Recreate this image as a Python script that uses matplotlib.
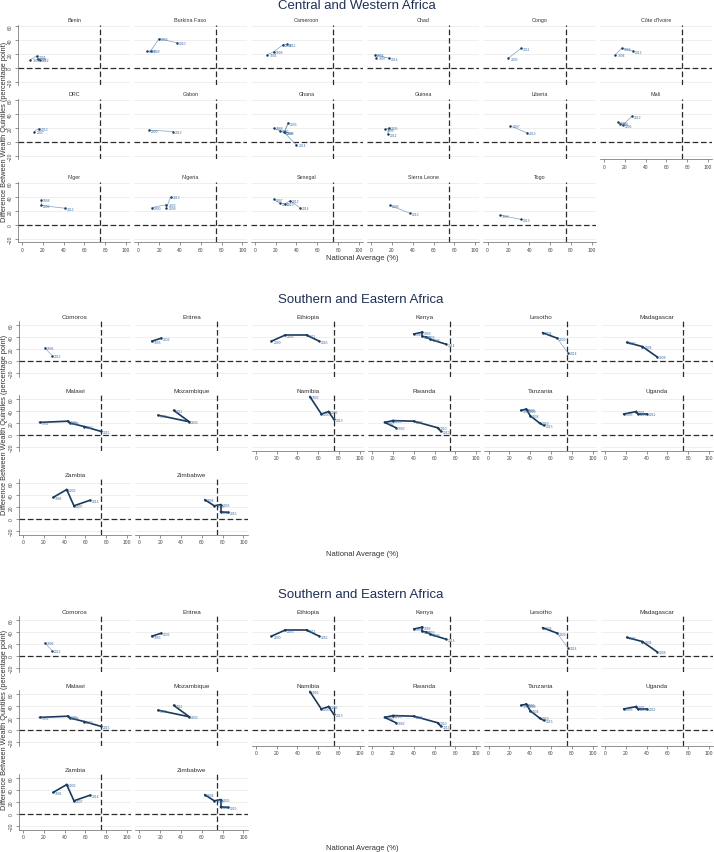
import matplotlib
matplotlib.use("Agg")
import matplotlib.pyplot as plt

plt.rcParams['font.family'] = ['Liberation Sans', 'DejaVu Sans']

# ---------------- data ----------------
CW_COUNTRIES = ["Benin", "Burkina Faso", "Cameroon", "Chad", "Congo", "Côte d'Ivoire",
                "DRC", "Gabon", "Ghana", "Guinea", "Liberia", "Mali",
                "Niger", "Nigeria", "Senegal", "Sierra Leone", "Togo"]
CW_YEARS = [[1996, 2001, 2006, 2012], [1993, 1999, 2003, 2010], [1991, 1998, 2004, 2011],
            [1997, 2004, 2014], [2005, 2011], [1994, 1999, 2012],
            [2007, 2013], [2000, 2012], [1988, 1993, 1998, 2003, 2008, 2014],
            [1999, 2005, 2012], [2007, 2013], [1996, 2001, 2006, 2012],
            [1998, 2006, 2012], [1990, 2003, 2008, 2013], [1997, 2005, 2010, 2012, 2014],
            [2008, 2013], [1998, 2013]]
CW_NAT = [[8, 14, 15, 17], [8, 12, 20, 37], [12, 18, 27, 31],
          [5, 4, 17], [20, 32], [11, 17, 28],
          [12, 16], [10, 33], [18, 24, 29, 32, 28, 40],
          [13, 17, 16], [22, 38], [13, 15, 18, 27],
          [18, 18, 41], [13, 27, 27, 31], [18, 24, 29, 34, 43],
          [18, 37], [12, 32]]
CW_GAP = [[12, 17, 13, 12], [25, 25, 42, 36], [19, 23, 33, 34],
          [15, 19, 14], [14, 28], [19, 28, 24],
          [15, 19], [17, 15], [20, 16, 14, 27, 14, -4],
          [18, 20, 11], [23, 13], [28, 26, 24, 37],
          [36, 28, 24], [25, 29, 25, 40], [37, 31, 30, 35, 25],
          [28, 17], [14, 8]]

SE_COUNTRIES = ["Comoros", "Eritrea", "Ethiopia", "Kenya", "Lesotho", "Madagascar",
                "Malawi", "Mozambique", "Namibia", "Rwanda", "Tanzania", "Uganda",
                "Zambia", "Zimbabwe"]
SE_YEARS = [[1996, 2012], [1995, 2002], [2000, 2005, 2011, 2016],
            [1989, 1993, 1998, 2003, 2008, 2014], [2004, 2009, 2014], [1997, 2004, 2008],
            [1992, 2000, 2004, 2010, 2015], [1997, 2003, 2011], [1992, 2000, 2006, 2013],
            [1992, 2000, 2005, 2008, 2010, 2015], [1992, 1996, 1999, 2004, 2010, 2015],
            [1995, 2001, 2006, 2011],
            [1996, 2002, 2007, 2014], [1994, 1999, 2005, 2010, 2015]]
SE_NAT = [[21, 28], [12, 21], [15, 28, 49, 61],
          [40, 48, 48, 52, 56, 71], [52, 66, 76], [21, 36, 50],
          [16, 43, 45, 59, 75], [18, 48, 33], [52, 63, 70, 75],
          [23, 12, 20, 40, 63, 66], [31, 36, 37, 40, 49, 53], [18, 30, 32, 40],
          [29, 42, 49, 64], [63, 72, 78, 78, 85]]
SE_GAP = [[22, 9], [33, 38], [33, 43, 43, 33],
          [45, 48, 41, 40, 36, 28], [47, 38, 14], [31, 24, 7],
          [21, 23, 20, 14, 6], [33, 22, 41], [64, 35, 39, 26],
          [12, 21, 24, 23, 12, 6], [41, 43, 41, 32, 20, 16], [35, 39, 35, 35],
          [36, 49, 22, 31], [32, 22, 24, 12, 11]]
# segment emphasis (True = bold segment)
SE_STRONG = [[False], [True], [True, True, True],
             [True] * 5, [True, False], [True, True],
             [True] * 4, [True, True], [True] * 3,
             [True] * 5, [True] * 5, [True] * 3,
             [True] * 3, [True] * 4]

X_TICKS = [0, 20, 40, 60, 80, 100]
Y_TICKS = [-20, 0, 20, 40, 60]
THRESHOLD_X = 75

# ---------------- layout ----------------
W, H = 714, 853
DPI = 100
fig = plt.figure(figsize=(W / DPI, H / DPI), dpi=DPI)
fig.patch.set_facecolor("white")

XLIM = (-4, 104)
SX = 1.04
COLSTEP = 116.4

NAVY = "#1a3a5c"
LABEL_COL = "#3f6fa3"
DASH_COL = "#2b2b2b"


def make_axes(x0px, y0px, sy, ylim):
    left = x0px + XLIM[0] * SX
    width = (XLIM[1] - XLIM[0]) * SX
    top = y0px - ylim[1] * sy
    height = (ylim[1] - ylim[0]) * sy
    ax = fig.add_axes([left / W, 1 - (top + height) / H, width / W, height / H])
    ax.set_xlim(*XLIM)
    ax.set_ylim(*ylim)
    return ax


def draw_panel(ax, name, years, nat, gap, show_y, show_x, strong, thin_style,
               title_fs, tick_fs):
    ax.set_facecolor("white")
    for s in ax.spines.values():
        s.set_visible(False)
    ax.set_yticks(Y_TICKS)
    ax.set_xticks(X_TICKS)
    ax.yaxis.grid(True, color="#e9e9e9", lw=0.5)
    ax.set_axisbelow(True)
    ax.tick_params(axis="both", length=2, width=0.5, color="#666666",
                   labelsize=tick_fs, labelcolor="#444444", pad=1.5)
    if show_y:
        ax.spines["left"].set_visible(True)
        ax.spines["left"].set_linewidth(0.5)
        ax.spines["left"].set_color("#666666")
        for lab in ax.get_yticklabels():
            lab.set_rotation(90)
            lab.set_va("center")
    else:
        ax.tick_params(axis="y", left=False, labelleft=False)
    if show_x:
        ax.spines["bottom"].set_visible(True)
        ax.spines["bottom"].set_linewidth(0.5)
        ax.spines["bottom"].set_color("#666666")
    else:
        ax.tick_params(axis="x", bottom=False, labelbottom=False)

    ax.axhline(0, color=DASH_COL, lw=0.9, dashes=(4.5, 2.2), zorder=2)
    ax.axvline(THRESHOLD_X, color=DASH_COL, lw=0.9, dashes=(4.5, 2.2), zorder=2)

    for i in range(len(years) - 1):
        bold = strong[i] if strong is not None else False
        if thin_style and not bold:
            ax.plot(nat[i:i + 2], gap[i:i + 2], color="#7f9fc2", lw=0.5, zorder=3)
        elif bold:
            ax.plot(nat[i:i + 2], gap[i:i + 2], color=NAVY, lw=1.2, zorder=3)
        else:
            ax.plot(nat[i:i + 2], gap[i:i + 2], color="#8aa6c6", lw=0.5, zorder=3)
    ax.plot(nat, gap, "o", color=NAVY, ms=1.8, mew=0, zorder=4)
    for yr, xv, yv in zip(years, nat, gap):
        ax.annotate(str(yr), (xv, yv), xytext=(1.4, -0.3), textcoords="offset points",
                    fontsize=2.4, color=LABEL_COL, va="center", ha="left", zorder=5)
    ax.set_title(name, fontsize=title_fs, color="#333333", pad=2.5)


# ---------- Section 1: Central and Western Africa ----------
S1_X0 = 22
S1_ROWS = [69, 143, 226]
S1_SY = 0.7
S1_YLIM = (-24, 62)
n1 = len(CW_COUNTRIES)
for idx in range(n1):
    r, c = divmod(idx, 6)
    ax = make_axes(S1_X0 + COLSTEP * c, S1_ROWS[r], S1_SY, S1_YLIM)
    below = idx + 6
    show_x = below >= n1
    draw_panel(ax, CW_COUNTRIES[idx], CW_YEARS[idx], CW_NAT[idx], CW_GAP[idx],
               c == 0, show_x, None, True, 3.9, 3.5)

fig.text(357 / W, 1 - 6 / H, "Central and Western Africa", ha="center", va="center",
         fontsize=9.5, color="#1f2f55")
fig.text(362 / W, 1 - 259 / H, "National Average (%)", ha="center", va="center",
         fontsize=5.5, color="#333333")
fig.text(5 / W, 1 - 132 / H, "Difference Between Wealth Quintiles (percentage point)",
         ha="center", va="center", rotation=90, fontsize=5.3, color="#333333")

# ---------- Sections 2 and 3: Southern and Eastern Africa ----------
for off in (0, 295):
    rows = [362 + off, 436 + off, 520 + off]
    n2 = len(SE_COUNTRIES)
    for idx in range(n2):
        r, c = divmod(idx, 6)
        ax = make_axes(23 + COLSTEP * c, rows[r], 0.6, (-26, 66))
        show_x = idx + 6 >= n2
        draw_panel(ax, SE_COUNTRIES[idx], SE_YEARS[idx], SE_NAT[idx], SE_GAP[idx],
                   c == 0, show_x, SE_STRONG[idx], False, 4.6, 3.6)
    fig.text(361 / W, 1 - (300 + off) / H, "Southern and Eastern Africa", ha="center",
             va="center", fontsize=9.5, color="#1f2f55")
    fig.text(362 / W, 1 - (554 + off) / H, "National Average (%)", ha="center",
             va="center", fontsize=5.5, color="#333333")
    fig.text(5 / W, 1 - (425 + off) / H,
             "Difference Between Wealth Quintiles (percentage point)",
             ha="center", va="center", rotation=90, fontsize=5.3, color="#333333")

fig.savefig("out.png", dpi=DPI, facecolor="white")
